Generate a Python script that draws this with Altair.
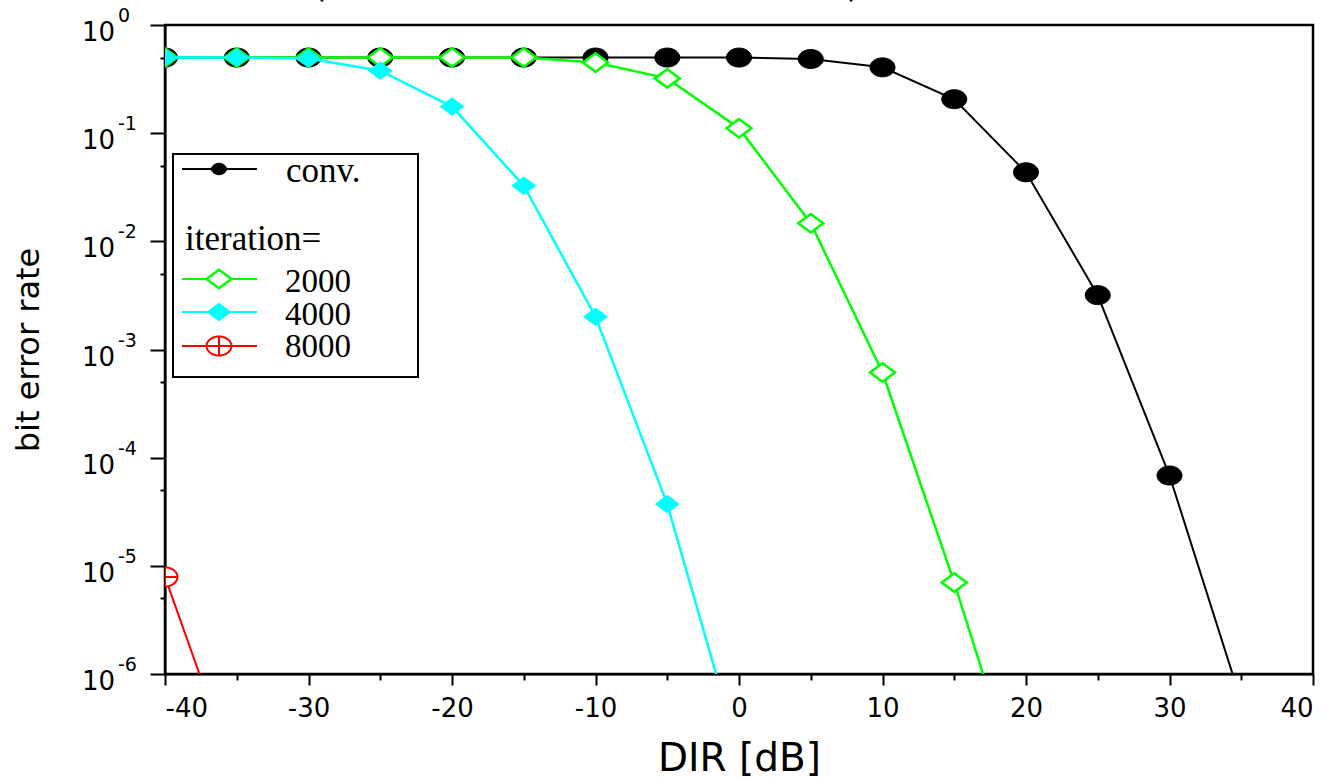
import math
import altair as alt
import pandas as pd

# ---------------- data ----------------
dir_conv = [-40, -35, -30, -25, -20, -15, -10, -5, 0, 5, 10, 15, 20, 25, 30, 35]
ber_conv = [0.5, 0.5, 0.5, 0.5, 0.5, 0.5, 0.5, 0.5, 0.5, 0.485, 0.406, 0.206,
            0.0435, 0.00318, 6.84e-5, 5.6e-7]

dir_2000 = [-40, -35, -30, -25, -20, -15, -10, -5, 0, 5, 10, 15, 20]
ber_2000 = [0.5, 0.5, 0.5, 0.5, 0.5, 0.5, 0.449, 0.321, 0.111, 0.0147,
            6.12e-4, 7.0e-6, 5.5e-8]

dir_4000 = [-40, -35, -30, -25, -20, -15, -10, -5, 0]
ber_4000 = [0.5, 0.5, 0.49, 0.378, 0.176, 0.0327, 0.00201, 3.72e-5, 1.84e-7]

dir_8000 = [-40, -35]
ber_8000 = [7.9e-6, 1.07e-7]

x_major = [-40, -30, -20, -10, 0, 10, 20, 30, 40]
x_minor = [-35, -25, -15, -5, 5, 15, 25, 35]
y_major = [1, 1e-1, 1e-2, 1e-3, 1e-4, 1e-5, 1e-6]
y_exp = ["0", "-1", "-2", "-3", "-4", "-5", "-6"]
y_minor = [5e-1, 5e-2, 5e-3, 5e-4, 5e-5, 5e-6]

legend_labels = ["conv.", "iteration=", "2000", "4000", "8000"]
x_title = "DIR [dB]"
y_title = "bit error rate"

# ---------------- styles ----------------
W, H = 1148, 649
SANS = "DejaVu Sans"
SERIF = "Liberation Serif"


def ellipse_path(ry, n=40):
    pts = []
    for i in range(n):
        t = 2 * math.pi * i / n
        pts.append(f"{math.cos(t):.3f},{ry * math.sin(t):.3f}")
    return "M" + "L".join(pts) + "Z"


ELLIPSE = ellipse_path(0.76)
CIRCPLUS = ELLIPSE + "M-1,0L1,0M0,-0.76L0,0.76"
DIAMOND = "M-1,0L0,-0.74L1,0L0,0.74Z"

xs = alt.Scale(domain=[-40, 40], nice=False, zero=False)
ys = alt.Scale(type="log", domain=[1e-6, 1], nice=False)


def series(xv, yv, color, lw, shape, fill, stroke, size, sw):
    df = pd.DataFrame({"x": xv, "y": yv})
    base = alt.Chart(df).encode(
        x=alt.X("x:Q", scale=xs, axis=None),
        y=alt.Y("y:Q", scale=ys, axis=None),
    )
    line = base.mark_line(color=color, strokeWidth=lw, clip=True)
    pts = base.mark_point(shape=shape, filled=True, fill=fill, stroke=stroke,
                          strokeWidth=sw, size=size, opacity=1, clip=True)
    return [line, pts]


layers = []

# axes (major)
ax_df = pd.DataFrame({"x": [-40, 40], "y": [1e-6, 1]})
layers.append(
    alt.Chart(ax_df).mark_point(opacity=0).encode(
        x=alt.X("x:Q", scale=xs, title=x_title,
                axis=alt.Axis(orient="bottom", values=x_major, tickSize=11,
                              tickWidth=2, domainWidth=2, labelFontSize=26,
                              labelFont=SANS, labelPadding=10, grid=False,
                              labelExpr="'' + datum.value",
                              titleFont=SANS, titleFontSize=39,
                              titleFontWeight="normal", titlePadding=18)),
        y=alt.Y("y:Q", scale=ys, title=y_title,
                axis=alt.Axis(orient="left", values=y_major, tickSize=15,
                              tickWidth=2, domainWidth=2, labels=False, grid=False,
                              titleFont=SANS, titleFontSize=32,
                              titleFontWeight="normal", titlePadding=104)),
    )
)
# axes (minor ticks)
layers.append(
    alt.Chart(ax_df).mark_point(opacity=0).encode(
        x=alt.X("x:Q", scale=xs,
                axis=alt.Axis(orient="bottom", values=x_minor, tickSize=6,
                              tickWidth=2, domain=False, labels=False,
                              grid=False, title=None)),
        y=alt.Y("y:Q", scale=ys,
                axis=alt.Axis(orient="left", values=y_minor, tickSize=5,
                              tickWidth=2, domain=False, labels=False,
                              grid=False, title=None)),
    )
)

# y tick labels as 10 + superscript exponent
lab_df = pd.DataFrame({"y": y_major, "e": y_exp})
layers.append(
    alt.Chart(lab_df).mark_text(align="right", baseline="alphabetic", dy=16,
                                fontSize=26, font=SANS, color="black").encode(
        y=alt.Y("y:Q", scale=ys, axis=None), x=alt.value(-50), text=alt.value("10"))
)
layers.append(
    alt.Chart(lab_df).mark_text(align="left", baseline="alphabetic", dy=-3,
                                fontSize=19, font=SANS, color="black").encode(
        y=alt.Y("y:Q", scale=ys, axis=None), x=alt.value(-47), text="e:N")
)

# series
layers += series(dir_conv, ber_conv, "black", 2, ELLIPSE, "black", "black", 625, 1)
layers += series(dir_2000, ber_2000, "#00ff00", 2.5, DIAMOND, "white", "#00ff00", 625, 2.5)
layers += series(dir_4000, ber_4000, "#00ffff", 2.5, DIAMOND, "#00ffff", "#00ffff", 560, 1)
layers += series(dir_8000, ber_8000, "#ff0000", 2, CIRCPLUS, "white", "#ff0000", 625, 2)

# legend
one = pd.DataFrame({"a": [0]})
layers.append(alt.Chart(one).mark_rect(fill="white", stroke="black", strokeWidth=2).encode(
    x=alt.value(8), x2=alt.value(253), y=alt.value(129), y2=alt.value(352)))

LEG_FS = 33
leg_rows = [
    # (line y, color, shape, fill, stroke, size, sw, label index, text baseline y, text x)
    (144, "black", ELLIPSE, "black", "black", 225, 1, 0, 157, 121),
    (254, "#00ff00", DIAMOND, "white", "#00ff00", 625, 2.5, 2, 267, 120),
    (287, "#00ffff", DIAMOND, "#00ffff", "#00ffff", 560, 1, 3, 300, 120),
    (321, "#ff0000", CIRCPLUS, "white", "#ff0000", 625, 2, 4, 332, 120),
]
for ly, col, shp, fil, stk, sz, sw, li, tb, tx in leg_rows:
    layers.append(alt.Chart(one).mark_rule(color=col, strokeWidth=2).encode(
        x=alt.value(17), x2=alt.value(92), y=alt.value(ly)))
    layers.append(alt.Chart(one).mark_point(shape=shp, filled=True, fill=fil, stroke=stk,
                                            strokeWidth=sw, size=sz, opacity=1).encode(
        x=alt.value(54), y=alt.value(ly)))
    layers.append(alt.Chart(one).mark_text(align="left", baseline="alphabetic",
                                           fontSize=35 if li == 0 else LEG_FS,
                                           font=SERIF, color="black").encode(
        x=alt.value(tx), y=alt.value(tb), text=alt.value(legend_labels[li])))
layers.append(alt.Chart(one).mark_text(align="left", baseline="alphabetic", fontSize=35,
                                       font=SERIF, color="black").encode(
    x=alt.value(20), y=alt.value(225), text=alt.value(legend_labels[1])))

# cut-off title remnants at the very top
for px, ch in [(155, "("), (688, ")")]:
    layers.append(alt.Chart(one).mark_text(align="center", baseline="alphabetic", fontSize=32,
                                           font=SANS, color="black").encode(
        x=alt.value(px), y=alt.value(-28), text=alt.value(ch)))

chart = (
    alt.layer(*layers)
    .resolve_axis(x="independent", y="independent")
    .properties(width=W, height=H,
                padding={"left": 165, "top": 25, "right": 23, "bottom": 106},
                autosize=alt.AutoSizeParams(type="none"))
    .configure_view(stroke="black", strokeWidth=2.5)
    .configure_axis(domainColor="black", tickColor="black", labelColor="black",
                    titleColor="black")
)

chart.save("out.html", embed_options={"renderer": "svg", "actions": False})
